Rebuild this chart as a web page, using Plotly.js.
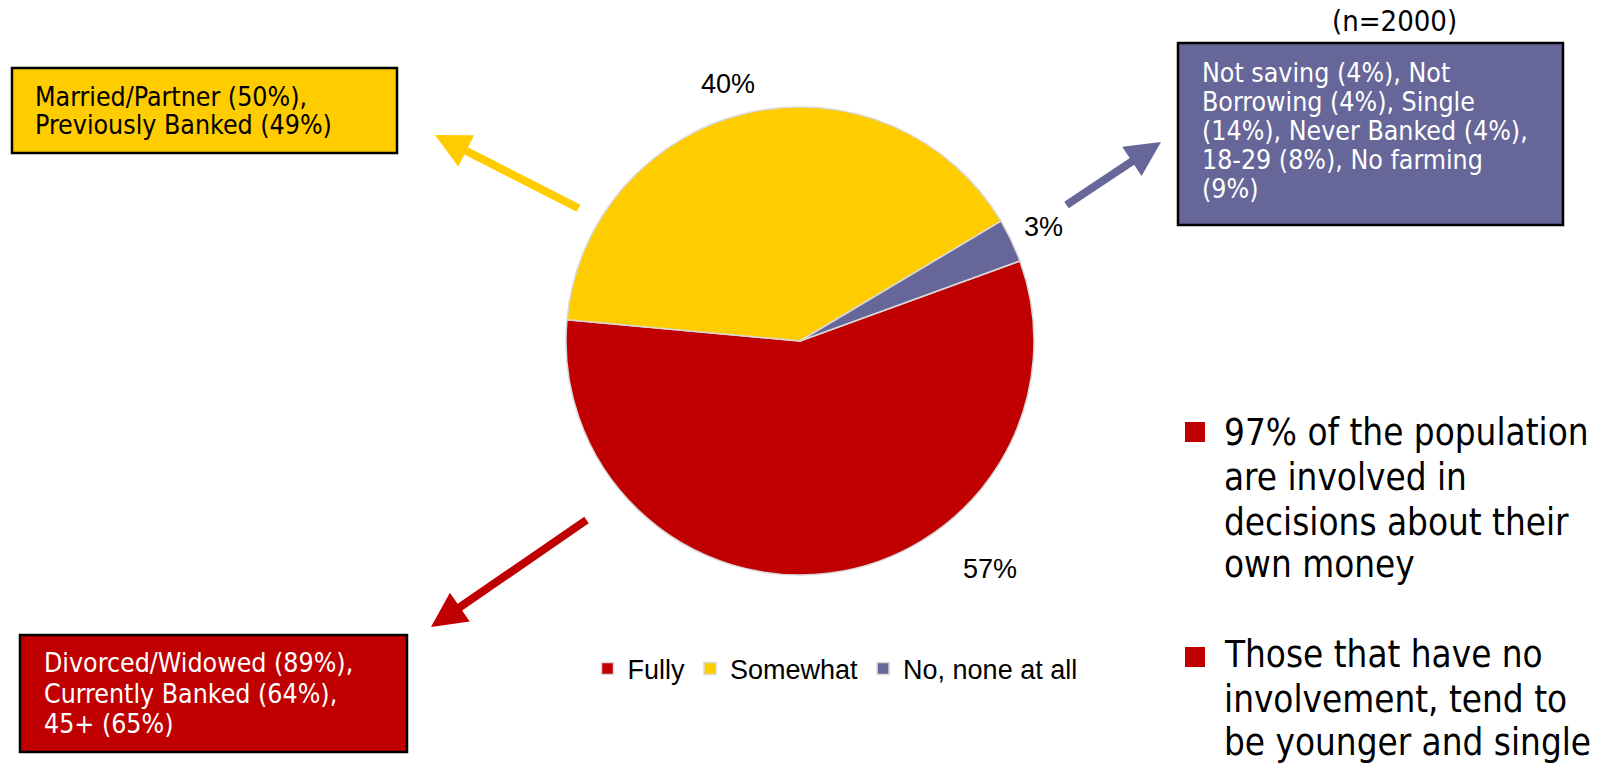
<!DOCTYPE html>
<html><head><meta charset="utf-8">
<script src="https://cdn.plot.ly/plotly-3.0.1.min.js"></script>
<style>html,body{margin:0;padding:0;background:#fff;}</style>
</head><body><div id="chart" style="width:1601px;height:770px;"></div>
<script>
// ---- data ----
const categories = ['Fully', 'Somewhat', 'No, none at all'];
const values = [57, 40, 3];
const sliceColors = ['#C00000', '#FFCC00', '#666699'];
const sampleNote = '(n=2000)';
const somewhatLines = ['Married/Partner (50%),', 'Previously Banked (49%)'];
const noneLines = ['Not saving (4%), Not', 'Borrowing (4%), Single', '(14%), Never Banked (4%),', '18-29 (8%), No farming', '(9%)'];
const fullyLines = ['Divorced/Widowed (89%),', 'Currently Banked (64%),', '45+ (65%)'];
const bullet1Lines = ['97% of the population', 'are involved in', 'decisions about their', 'own money'];
const bullet2Lines = ['Those that have no', 'involvement, tend to', 'be younger and single'];

// ---- layout helpers ----
const W = 1601, H = 770;
const px = x => x / W;
const py = y => 1 - y / H;
const tahoma = 'DejaVu Sans Condensed, DejaVu Sans, sans-serif';
const arial = 'Liberation Sans, Arial, sans-serif';

const trace = {
  type: 'pie',
  labels: categories,
  values: values,
  sort: false,
  direction: 'clockwise',
  rotation: 70,
  textinfo: 'none',
  hoverinfo: 'label+percent',
  marker: { colors: sliceColors, line: { color: '#d9d9d9', width: 1.5 } },
  domain: { x: [px(566), px(1034)], y: [py(575), py(107)] }
};

const annotations = [];
const shapes = [];

// percentage labels
const labelPos = [[990, 569], [728, 84], [1043, 227]];
values.forEach((v, i) => {
  annotations.push({
    xref: 'paper', yref: 'paper', x: px(labelPos[i][0]), y: py(labelPos[i][1]),
    xanchor: 'center', yanchor: 'middle', showarrow: false,
    text: v + '%', font: { family: arial, size: 27, color: '#000' }
  });
});

// sample size note
annotations.push({
  xref: 'paper', yref: 'paper', x: px(1394), y: py(21), xanchor: 'center', yanchor: 'middle',
  showarrow: false, text: sampleNote, font: { family: tahoma, size: 29, color: '#000' }
});

// boxes
function box(x0, y0, x1, y1, fill) {
  shapes.push({ type: 'rect', xref: 'paper', yref: 'paper', x0: px(x0), x1: px(x1), y0: py(y1), y1: py(y0),
    fillcolor: fill, line: { color: '#000', width: 2.5 }, layer: 'above' });
}
function lines(arr, x, centers, size, color) {
  arr.forEach((t, i) => {
    annotations.push({
      xref: 'paper', yref: 'paper', x: px(x), y: py(centers[i]), xanchor: 'left', yanchor: 'middle',
      showarrow: false, text: t, font: { family: tahoma, size: size, color: color }
    });
  });
}
box(12, 68, 397, 153, sliceColors[1]);
lines(somewhatLines, 33, [96, 124.5], 26.5, '#000');
box(1178, 43, 1563, 225, sliceColors[2]);
lines(noneLines, 1200, [72.5, 102, 130.5, 159, 188.5], 26.5, '#fff');
box(20, 635, 407, 752, sliceColors[0]);
lines(fullyLines, 42, [662, 693, 723], 26.5, '#fff');

// bullets
shapes.push({ type: 'rect', xref: 'paper', yref: 'paper', x0: px(1185), x1: px(1205), y0: py(442), y1: py(422), fillcolor: '#C00000', line: { width: 0 } });
shapes.push({ type: 'rect', xref: 'paper', yref: 'paper', x0: px(1185), x1: px(1205), y0: py(667), y1: py(647), fillcolor: '#C00000', line: { width: 0 } });
lines(bullet1Lines, 1222, [432.5, 477.5, 522.5, 564.5], 36.5, '#000');
lines(bullet2Lines, 1222, [654.5, 699.5, 742.5], 36.5, '#000');

// arrows
function arrow(hx, hy, tx, ty, color) {
  annotations.push({
    xref: 'paper', yref: 'paper', x: px(hx), y: py(hy), axref: 'pixel', ayref: 'pixel',
    ax: tx - hx, ay: ty - hy, text: '', showarrow: true, arrowhead: 2, arrowsize: 0.875,
    arrowwidth: 8, arrowcolor: color, standoff: 0, startstandoff: 0
  });
}
arrow(435, 135, 580, 209, sliceColors[1]);
arrow(1161, 142, 1065, 206, sliceColors[2]);
arrow(431, 627, 588, 519, sliceColors[0]);

const layout = {
  width: W, height: H,
  margin: { l: 0, r: 0, t: 0, b: 0 },
  paper_bgcolor: '#fff', plot_bgcolor: '#fff',
  showlegend: true,
  legend: {
    orientation: 'h', x: px(835), y: py(669), xanchor: 'center', yanchor: 'middle',
    font: { family: arial, size: 27, color: '#000' }, bgcolor: 'rgba(0,0,0,0)', traceorder: 'normal'
  },
  annotations: annotations,
  shapes: shapes
};

Plotly.newPlot('chart', [trace], layout, { displayModeBar: false, staticPlot: true });
</script>
</body></html>
